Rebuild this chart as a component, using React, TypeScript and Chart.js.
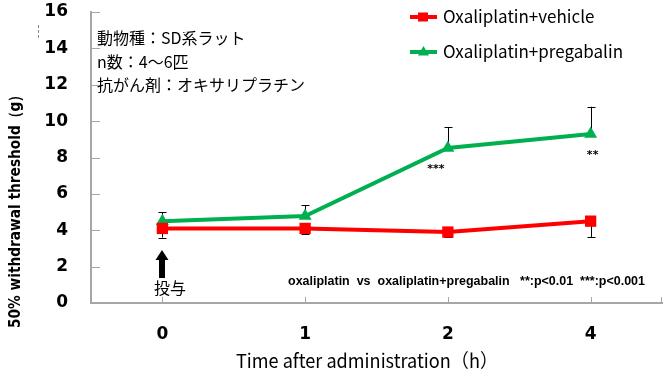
import React, { useEffect, useRef } from "react";
import { Chart, registerables } from "chart.js";

Chart.register(...registerables);

// ---- data ----
const categories = ["0", "1", "2", "4"];
const seriesNames = ["Oxaliplatin+vehicle", "Oxaliplatin+pregabalin"];
const vehicleValues = [4.1, 4.1, 3.9, 4.5];
const vehicleErrors = [0.5, 0.3, 0.25, 0.87];
const pregabalinValues = [4.5, 4.78, 8.52, 9.29];
const pregabalinErrors = [0.5, 0.6, 1.16, 1.5];
const significanceMarks = ["", "", "***", "**"];
const yTickValues = [0, 2, 4, 6, 8, 10, 12, 14, 16];
const infoLines = ["動物種：SD系ラット", "n数：4～6匹", "抗がん剤：オキサリプラチン"];
const doseLabel = "投与";
const statNote = "oxaliplatin  vs  oxaliplatin+pregabalin   **:p<0.01  ***:p<0.001";
const xTitle = "Time after administration（h）";
const yTitle = "50% withdrawal threshold（g）";

const RED = "#FF0000";
const GREEN = "#00B050";
const AXIS = "#A6A6A6";
const JP = "'Noto Sans CJK JP', 'Noto Sans', sans-serif";

const overlayPlugin = {
  id: "overlay",
  beforeDatasetsDraw(chart: any) {
    const ctx = chart.ctx;
    const xs = chart.scales.x;
    const ys = chart.scales.y;
    ctx.save();
    ctx.strokeStyle = "#000";
    ctx.lineWidth = 1;
    const drawErr = (vals: number[], errs: number[], dir: number) => {
      vals.forEach((v, i) => {
        const x = Math.round(xs.getPixelForValue(i));
        const y0 = ys.getPixelForValue(v);
        const y1 = ys.getPixelForValue(v + dir * errs[i]);
        ctx.beginPath();
        ctx.moveTo(x + 0.5, y0);
        ctx.lineTo(x + 0.5, y1);
        ctx.moveTo(x - 3.5, Math.round(y1) + 0.5);
        ctx.lineTo(x + 4.5, Math.round(y1) + 0.5);
        ctx.stroke();
      });
    };
    drawErr(vehicleValues, vehicleErrors, -1);
    drawErr(pregabalinValues, pregabalinErrors, 1);

    // axis tick marks (inside)
    ctx.strokeStyle = AXIS;
    ctx.lineWidth = 1;
    const { left, right, bottom } = chart.chartArea;
    yTickValues.forEach((t) => {
      const y = Math.round(ys.getPixelForValue(t)) + 0.5;
      ctx.beginPath();
      ctx.moveTo(left, y);
      ctx.lineTo(left + 9, y);
      ctx.stroke();
    });
    const xTickPos = categories.map((_, i) => xs.getPixelForValue(i));
    xTickPos.push(right - 1);
    xTickPos.forEach((p) => {
      const x = Math.round(p) + 0.5;
      ctx.beginPath();
      ctx.moveTo(x, bottom);
      ctx.lineTo(x, bottom - 6);
      ctx.stroke();
    });
    ctx.restore();
  },
  afterDraw(chart: any) {
    const ctx = chart.ctx;
    const xs = chart.scales.x;
    const ys = chart.scales.y;
    const { left } = chart.chartArea;
    ctx.save();
    ctx.fillStyle = "#000";
    ctx.textBaseline = "middle";

    // info lines
    ctx.font = `16px ${JP}`;
    ctx.textAlign = "left";
    infoLines.forEach((t, i) => ctx.fillText(t, left + 6, 38 + i * 23.5));

    // significance marks
    ctx.font = "bold 11px 'DejaVu Sans', sans-serif";
    ctx.textAlign = "center";
    significanceMarks.forEach((m, i) => {
      if (!m) return;
      const x = xs.getPixelForValue(i);
      const y = ys.getPixelForValue(pregabalinValues[i]) + 21;
      ctx.fillText(m, x - 12 + (i === 3 ? 14 : 0), y);
    });

    // dosing arrow
    const ax = Math.round(xs.getPixelForValue(0));
    const headTop = ys.getPixelForValue(2.91);
    const shaftBot = ys.getPixelForValue(1.37);
    ctx.beginPath();
    ctx.moveTo(ax, headTop);
    ctx.lineTo(ax + 6.5, headTop + 10);
    ctx.lineTo(ax + 3, headTop + 10);
    ctx.lineTo(ax + 3, shaftBot);
    ctx.lineTo(ax - 3, shaftBot);
    ctx.lineTo(ax - 3, headTop + 10);
    ctx.lineTo(ax - 6.5, headTop + 10);
    ctx.closePath();
    ctx.fill();
    ctx.font = `16px ${JP}`;
    ctx.textAlign = "center";
    ctx.fillText(doseLabel, ax + 8, ys.getPixelForValue(0.82));

    // statistics note
    ctx.font = "bold 13px 'Liberation Sans', sans-serif";
    ctx.textAlign = "left";
    ctx.fillText(statNote, 288, ys.getPixelForValue(1.2), 357);

    // legend
    const legendRows = [
      { name: seriesNames[0], color: RED, style: "rect" },
      { name: seriesNames[1], color: GREEN, style: "triangle" },
    ];
    legendRows.forEach((r, i) => {
      const y = 17 + i * 35;
      ctx.strokeStyle = r.color;
      ctx.fillStyle = r.color;
      ctx.lineWidth = 4;
      ctx.beginPath();
      ctx.moveTo(410, y);
      ctx.lineTo(437, y);
      ctx.stroke();
      ctx.beginPath();
      if (r.style === "rect") {
        ctx.rect(418, y - 4.5, 10, 9);
      } else {
        ctx.moveTo(423.5, y - 6);
        ctx.lineTo(429, y + 3.5);
        ctx.lineTo(418, y + 3.5);
        ctx.closePath();
      }
      ctx.fill();
      ctx.fillStyle = "#000";
      ctx.font = `17px ${JP}`;
      ctx.textAlign = "left";
      ctx.fillText(r.name, 443, y, i === 0 ? 155 : 185);
    });

    // axis titles
    ctx.fillStyle = "#000";
    ctx.font = `19px ${JP}`;
    ctx.textAlign = "center";
    ctx.fillText(xTitle, 367, 361, 262);
    ctx.save();
    ctx.translate(16, 208);
    ctx.rotate(-Math.PI / 2);
    ctx.font = "bold 16px 'DejaVu Sans', sans-serif";
    ctx.fillText(yTitle, 0, 0, 240);
    ctx.restore();

    // small dashed mark at top-left
    ctx.strokeStyle = "#888";
    ctx.lineWidth = 1;
    ctx.setLineDash([3, 2]);
    ctx.beginPath();
    ctx.moveTo(38.5, 25);
    ctx.lineTo(38.5, 38);
    ctx.stroke();
    ctx.restore();
  },
};

export default function App() {
  const ref = useRef<HTMLCanvasElement | null>(null);
  useEffect(() => {
    document.body.style.margin = "0";
    const canvas = ref.current;
    if (!canvas) return;
    const chart = new Chart(canvas, {
      type: "line",
      data: {
        labels: categories,
        datasets: [
          {
            label: seriesNames[0],
            data: vehicleValues,
            borderColor: RED,
            backgroundColor: RED,
            borderWidth: 4,
            pointStyle: "rect",
            pointRadius: 8,
            pointBorderWidth: 0,
            tension: 0,
          },
          {
            label: seriesNames[1],
            data: pregabalinValues,
            borderColor: GREEN,
            backgroundColor: GREEN,
            borderWidth: 4,
            pointStyle: "triangle",
            pointRadius: 7.5,
            pointBorderWidth: 0,
            tension: 0,
          },
        ],
      },
      options: {
        animation: false,
        responsive: false,
        devicePixelRatio: 1,
        layout: { padding: { top: 12, right: 5, left: 0, bottom: 0 } },
        plugins: {
          legend: { display: false },
          tooltip: { enabled: false },
        },
        scales: {
          x: {
            type: "category",
            offset: true,
            grid: { display: false, drawTicks: false },
            border: { display: true, color: AXIS, width: 2 },
            ticks: {
              color: "#000",
              font: { family: "'DejaVu Sans', sans-serif", size: 17, weight: "bold" },
              padding: 21,
            },
            afterFit: (s: any) => {
              s.height = 75;
              s.paddingLeft = 0;
              s.paddingRight = 0;
            },
          },
          y: {
            min: 0,
            max: 16,
            afterBuildTicks: (s: any) => {
              s.ticks = yTickValues.map((v) => ({ value: v }));
            },
            grid: { display: false, drawTicks: false },
            border: { display: true, color: AXIS, width: 2 },
            ticks: {
              color: "#000",
              font: { family: "'DejaVu Sans', sans-serif", size: 17, weight: "bold" },
              padding: 23,
            },
            afterFit: (s: any) => {
              s.width = 91;
              s.paddingTop = 0;
              s.paddingBottom = 0;
            },
          },
        },
      },
      plugins: [overlayPlugin],
    } as any);
    return () => chart.destroy();
  }, []);
  return <canvas ref={ref} width={670} height={378} style={{ display: "block" }} />;
}
